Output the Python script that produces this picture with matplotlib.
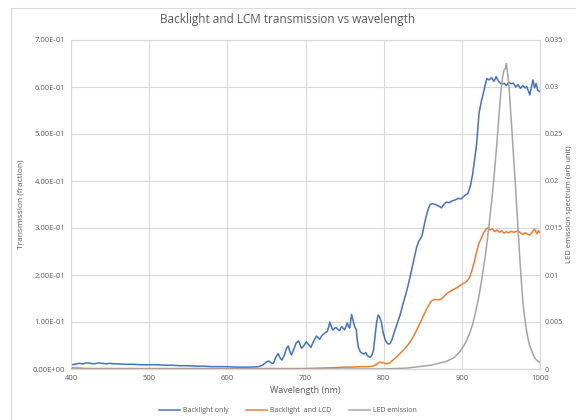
import matplotlib
matplotlib.use("Agg")
import matplotlib.pyplot as plt
from matplotlib.patches import Rectangle

plt.rcParams['font.family'] = ['Open Sans', 'DejaVu Sans']

# Backlight only (transmission fraction)
bl_wl = [400, 405, 410, 415, 420, 425, 430, 435, 440, 445, 450, 455, 460, 470, 480, 490, 500,
         510, 520, 530, 540, 550, 560, 570, 580, 590, 600, 610, 620, 630, 640, 645, 650, 653,
         656, 659, 662, 665, 668, 670, 673, 676, 678, 680, 682, 685, 688, 691, 693, 695, 698,
         701, 704, 707, 710, 714, 716, 718, 721, 725, 728, 730, 731, 733, 735, 738, 740, 742,
         744, 746, 748, 750, 752, 753.5, 755, 756.5, 758, 759, 761, 763, 765, 766, 767.5, 770,
         772, 774, 776, 777, 779, 781, 783, 785, 787, 789, 791, 793, 795, 797, 799, 802, 804,
         806, 808, 810, 813, 817, 821, 825, 829, 833, 838, 842, 845, 849, 853, 856, 859, 862,
         866, 870, 874, 877, 880, 884, 888, 892, 895, 899, 903, 908, 911, 914, 917, 919, 922,
         925, 928, 930, 932, 935, 938, 941, 944, 946, 948, 951, 954, 957, 960, 963, 966, 969,
         972, 975, 978, 981, 983, 985, 987, 989, 991, 993, 995, 997, 1000]
bl_val = [0.009, 0.010, 0.012, 0.011, 0.013, 0.012, 0.011, 0.013, 0.012, 0.011, 0.012, 0.011,
          0.011, 0.010, 0.010, 0.009, 0.009, 0.009, 0.008, 0.008, 0.007, 0.007, 0.006, 0.006,
          0.005, 0.005, 0.005, 0.004, 0.004, 0.004, 0.005, 0.008, 0.015, 0.017, 0.013, 0.012,
          0.025, 0.033, 0.022, 0.019, 0.030, 0.045, 0.049, 0.038, 0.030, 0.042, 0.055, 0.060,
          0.052, 0.044, 0.050, 0.058, 0.052, 0.046, 0.058, 0.070, 0.067, 0.063, 0.071, 0.077,
          0.080, 0.092, 0.100, 0.090, 0.083, 0.088, 0.087, 0.083, 0.082, 0.090, 0.087, 0.083,
          0.092, 0.098, 0.090, 0.087, 0.105, 0.116, 0.102, 0.090, 0.083, 0.065, 0.047, 0.037,
          0.034, 0.032, 0.033, 0.035, 0.029, 0.026, 0.025, 0.030, 0.040, 0.070, 0.100, 0.115,
          0.110, 0.100, 0.080, 0.062, 0.056, 0.053, 0.054, 0.060, 0.075, 0.095, 0.115, 0.140,
          0.163, 0.190, 0.228, 0.258, 0.272, 0.283, 0.315, 0.335, 0.349, 0.352, 0.350, 0.347,
          0.343, 0.350, 0.355, 0.354, 0.358, 0.360, 0.363, 0.362, 0.368, 0.374, 0.390, 0.416,
          0.455, 0.480, 0.544, 0.570, 0.590, 0.605, 0.618, 0.615, 0.620, 0.612, 0.622, 0.615,
          0.610, 0.606, 0.608, 0.603, 0.610, 0.607, 0.608, 0.600, 0.605, 0.597, 0.603, 0.598,
          0.601, 0.592, 0.583, 0.600, 0.615, 0.598, 0.608, 0.593, 0.590]

# Backlight and LCD (transmission fraction)
lcd_wl = [400, 405, 410, 420, 440, 500, 600, 700, 740, 750, 760, 770, 780, 786, 790, 795, 800,
          804, 808, 812, 816, 821, 825, 829, 834, 838, 842, 846, 850, 855, 859, 862, 866, 870,
          874, 878, 882, 886, 890, 894, 898, 902, 906, 910, 913, 916, 919, 922, 925, 928, 931,
          933, 936, 939, 942, 945, 948, 951, 954, 957, 960, 963, 966, 969, 972, 975, 978, 981,
          984, 987, 990, 993, 996, 998, 1000]
lcd_val = [0.003, 0.002, 0.002, 0.001, 0.001, 0.001, 0.001, 0.001, 0.003, 0.004, 0.004, 0.005,
           0.005, 0.006, 0.009, 0.015, 0.013, 0.011, 0.013, 0.019, 0.025, 0.033, 0.040, 0.047,
           0.058, 0.069, 0.082, 0.096, 0.110, 0.128, 0.140, 0.146, 0.148, 0.147, 0.149, 0.156,
           0.162, 0.166, 0.170, 0.173, 0.178, 0.182, 0.186, 0.195, 0.210, 0.228, 0.250, 0.268,
           0.278, 0.290, 0.298, 0.300, 0.296, 0.298, 0.292, 0.296, 0.291, 0.294, 0.289, 0.292,
           0.290, 0.293, 0.291, 0.292, 0.294, 0.290, 0.286, 0.290, 0.287, 0.285, 0.291, 0.298,
           0.288, 0.294, 0.290]

# LED emission spectrum (arb. unit, right axis)
led_wl = [400, 800, 830, 840, 850, 860, 870, 880, 890, 897, 902, 906, 910, 914, 918, 922, 926,
          930, 933, 936, 939, 942, 945, 948, 950, 952, 954, 956, 957, 958, 960, 962, 964, 966,
          968, 970, 972, 974, 976, 978, 980, 982, 984, 986, 988, 990, 993, 996, 1000]
led_val = [0.0, 0.0, 0.0001, 0.0002, 0.0003, 0.0004, 0.0006, 0.0008, 0.0012, 0.0018, 0.0024,
           0.0030, 0.0038, 0.0048, 0.0062, 0.0078, 0.0098, 0.0120, 0.0140, 0.0162, 0.0185,
           0.0212, 0.0242, 0.0275, 0.0295, 0.0310, 0.0318, 0.0320, 0.0325, 0.0318, 0.0305,
           0.0280, 0.0255, 0.0228, 0.0203, 0.0175, 0.0148, 0.0120, 0.0095, 0.0072, 0.0057,
           0.0045, 0.0035, 0.0027, 0.0022, 0.0018, 0.0012, 0.0009, 0.0007]

x_ticks = [400, 500, 600, 700, 800, 900, 1000]
left_ticks = [0.0, 0.1, 0.2, 0.3, 0.4, 0.5, 0.6, 0.7]
left_labels = ["0.00E+00", "1.00E-01", "2.00E-01", "3.00E-01", "4.00E-01", "5.00E-01",
               "6.00E-01", "7.00E-01"]
right_ticks = [0, 0.005, 0.01, 0.015, 0.02, 0.025, 0.03, 0.035]
right_labels = ["0", "0.005", "0.01", "0.015", "0.02", "0.025", "0.03", "0.035"]

BLUE = "#4472C4"
ORANGE = "#ED7D31"
GRAY = "#A5A5A5"
GRID = "#D9D9D9"
TXT = "#595959"

fig = plt.figure(figsize=(5.76, 4.2), dpi=100)
fig.patches.append(Rectangle((11 / 576, -0.01), 1.0, 1 - 8 / 420 + 0.01,
                             transform=fig.transFigure, fill=False,
                             edgecolor=GRID, linewidth=0.8))

ax = fig.add_axes([71 / 576, 1 - 369 / 420, (540 - 71) / 576, (369 - 40) / 420])
ax2 = ax.twinx()

l1, = ax.plot(bl_wl, bl_val, color=BLUE, lw=1.1, label="Backlight only", zorder=3)
l2, = ax.plot(lcd_wl, lcd_val, color=ORANGE, lw=1.1, label="Backlight  and LCD", zorder=3)
l3, = ax2.plot(led_wl, led_val, color=GRAY, lw=1.1, label="LED emission", zorder=3)

ax.set_xlim(400, 1000)
ax.set_ylim(0, 0.7)
ax2.set_ylim(0, 0.035)
ax.set_xticks(x_ticks)
ax.set_yticks(left_ticks)
ax.set_yticklabels(left_labels)
ax2.set_yticks(right_ticks)
ax2.set_yticklabels(right_labels)

ax.grid(True, color=GRID, lw=0.8)
ax.set_axisbelow(True)
for a in (ax, ax2):
    for s in a.spines.values():
        s.set_color(GRID)
        s.set_linewidth(0.8)
    a.tick_params(length=0, labelsize=5.5, labelcolor=TXT, pad=4)
ax2.tick_params(labelsize=5.0, pad=3)
ax.spines['bottom'].set_color("#BFBFBF")

ax.set_xlabel("Wavelength (nm)", fontsize=6.5, color=TXT, labelpad=3)
ax.set_ylabel("Transmission (fraction)", fontsize=6, color=TXT, labelpad=6)
ax2.set_ylabel("LED emission spectrum (arb unit)", fontsize=5.5, color=TXT,
               rotation=90, va="center")
ax2.yaxis.set_label_coords(1 + (570 - 540) / 469, 0.5)

fig.text(0.5, 1 - 20 / 420, "Backlight and LCM transmission vs wavelength",
         ha="center", va="center", fontsize=8.5, color=TXT)

fig.legend(handles=[l1, l2, l3], loc="center", bbox_to_anchor=(0.5, 1 - 411 / 420),
           ncol=3, frameon=False, fontsize=5, labelcolor=TXT, handlelength=3,
           columnspacing=2.5, handletextpad=0.5)

fig.savefig("out.png", dpi=100)
